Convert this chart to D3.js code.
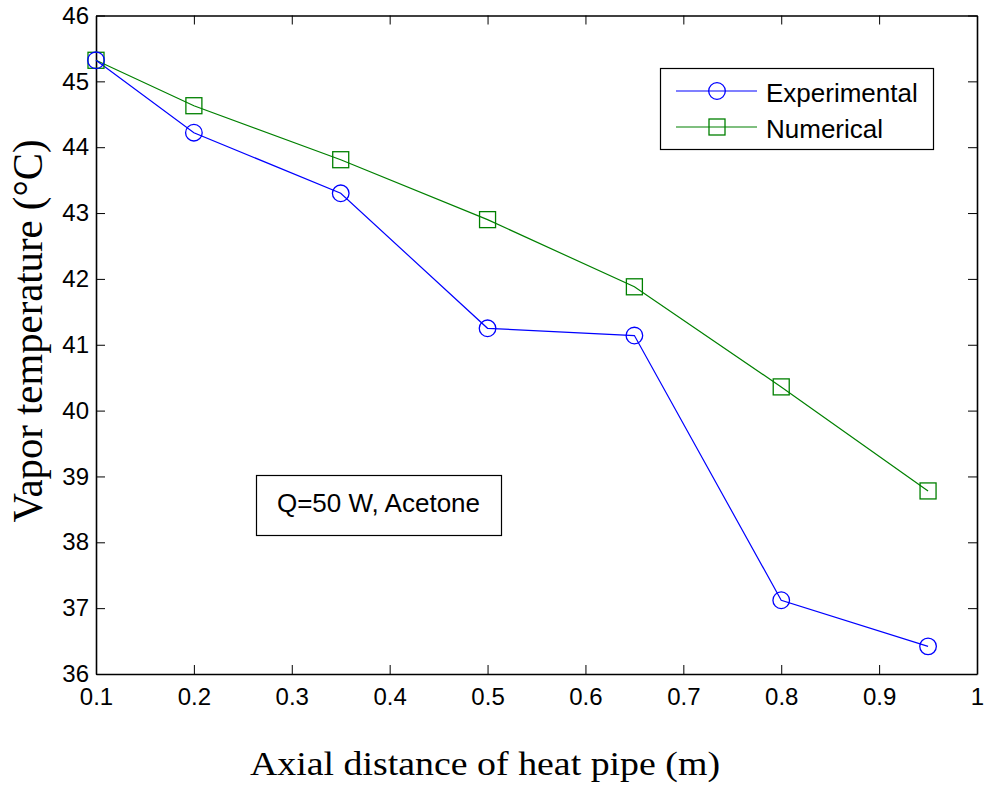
<!DOCTYPE html>
<html>
<head>
<meta charset="utf-8">
<script src="https://cdn.jsdelivr.net/npm/d3@7"></script>
<style>
  html, body { margin: 0; padding: 0; background: #fff; }
  svg { display: block; }
</style>
</head>
<body>
<svg id="chart" width="986" height="789"></svg>
<script>
// Axial positions along the heat pipe (m)
const distance = [0.1, 0.2, 0.35, 0.5, 0.65, 0.8, 0.95];
// Vapor temperatures (°C)
const experimental = [45.32, 44.22, 43.3, 41.25, 41.14, 37.12, 36.42];
const numerical = [45.32, 44.63, 43.81, 42.9, 41.88, 40.36, 38.78];
const seriesNames = ["Experimental", "Numerical"];
const xTicks = [0.1, 0.2, 0.3, 0.4, 0.5, 0.6, 0.7, 0.8, 0.9, 1];
const yTicks = [36, 37, 38, 39, 40, 41, 42, 43, 44, 45, 46];
const annotation = "Q=50 W, Acetone";

const svg = d3.select("#chart");
const plot = { left: 96, right: 977, top: 15.5, bottom: 674 };

const x = d3.scaleLinear().domain([0.1, 1]).range([plot.left, plot.right]);
const y = d3.scaleLinear().domain([36, 46]).range([plot.bottom, plot.top]);

const tickFont = "Arial, 'Liberation Sans', sans-serif";
const labelFont = "'Times New Roman', 'Liberation Serif', serif";

// Axes with inward ticks on all four sides
const fmtX = d => (d === 1 ? "1" : d3.format(".1f")(d));
const bottomAxis = d3.axisBottom(x).tickValues(xTicks).tickSizeInner(-9).tickSizeOuter(0).tickPadding(14).tickFormat(fmtX);
const topAxis = d3.axisTop(x).tickValues(xTicks).tickSizeInner(-9).tickSizeOuter(0).tickFormat("");
const leftAxis = d3.axisLeft(y).tickValues(yTicks).tickSizeInner(-9).tickSizeOuter(0).tickPadding(7).tickFormat(d3.format("d"));
const rightAxis = d3.axisRight(y).tickValues(yTicks).tickSizeInner(-9).tickSizeOuter(0).tickFormat("");

function styleAxis(g) {
  g.select(".domain").attr("stroke", "#000").attr("stroke-width", 1.6);
  g.selectAll(".tick line").attr("stroke", "#000").attr("stroke-width", 1);
  g.selectAll(".tick text").attr("fill", "#000").style("font-family", tickFont).style("font-size", "24px");
}

svg.append("g").attr("transform", `translate(0,${plot.bottom})`).call(bottomAxis).call(styleAxis);
svg.append("g").attr("transform", `translate(0,${plot.top})`).call(topAxis).call(styleAxis);
svg.append("g").attr("transform", `translate(${plot.left},0)`).call(leftAxis).call(styleAxis);
svg.append("g").attr("transform", `translate(${plot.right},0)`).call(rightAxis).call(styleAxis);

// Series lines and markers
const line = d3.line().x((d, i) => x(distance[i])).y(d => y(d));

svg.append("path").datum(numerical)
  .attr("fill", "none").attr("stroke", "#008000").attr("stroke-width", 1.2)
  .attr("d", line);
svg.append("path").datum(experimental)
  .attr("fill", "none").attr("stroke", "#0000ff").attr("stroke-width", 1.2)
  .attr("d", line);

const sq = 16;
svg.append("g").selectAll("rect").data(numerical).join("rect")
  .attr("x", (d, i) => x(distance[i]) - sq / 2)
  .attr("y", d => y(d) - sq / 2)
  .attr("width", sq).attr("height", sq)
  .attr("fill", "none").attr("stroke", "#008000").attr("stroke-width", 1.3);

svg.append("g").selectAll("circle").data(experimental).join("circle")
  .attr("cx", (d, i) => x(distance[i]))
  .attr("cy", d => y(d))
  .attr("r", 8.3)
  .attr("fill", "none").attr("stroke", "#0000ff").attr("stroke-width", 1.3);

// Legend
const legend = svg.append("g");
legend.append("rect")
  .attr("x", 660.5).attr("y", 68.5).attr("width", 273).attr("height", 81)
  .attr("fill", "#fff").attr("stroke", "#000").attr("stroke-width", 1.2);

const legendRows = [
  { name: seriesNames[0], color: "#0000ff", shape: "circle", cy: 91 },
  { name: seriesNames[1], color: "#008000", shape: "square", cy: 127 }
];
legendRows.forEach(r => {
  legend.append("line")
    .attr("x1", 676).attr("x2", 757).attr("y1", r.cy).attr("y2", r.cy)
    .attr("stroke", r.color).attr("stroke-width", 1.2);
  if (r.shape === "circle") {
    legend.append("circle").attr("cx", 717).attr("cy", r.cy).attr("r", 8.3)
      .attr("fill", "none").attr("stroke", r.color).attr("stroke-width", 1.3);
  } else {
    legend.append("rect").attr("x", 717 - sq / 2).attr("y", r.cy - sq / 2)
      .attr("width", sq).attr("height", sq)
      .attr("fill", "none").attr("stroke", r.color).attr("stroke-width", 1.3);
  }
  legend.append("text")
    .attr("x", 766).attr("y", r.cy + 11)
    .style("font-family", tickFont).style("font-size", "26px")
    .attr("fill", "#000").text(r.name);
});

// Annotation box
svg.append("rect")
  .attr("x", 256.5).attr("y", 475.5).attr("width", 245).attr("height", 60)
  .attr("fill", "#fff").attr("stroke", "#000").attr("stroke-width", 1.2);
svg.append("text")
  .attr("x", 378.5).attr("y", 512)
  .attr("text-anchor", "middle")
  .style("font-family", tickFont).style("font-size", "26px")
  .attr("fill", "#000").text(annotation);

// Axis titles
svg.append("text")
  .attr("x", 485).attr("y", 775)
  .attr("text-anchor", "middle")
  .attr("textLength", 470).attr("lengthAdjust", "spacingAndGlyphs")
  .style("font-family", labelFont).style("font-size", "34px")
  .attr("fill", "#000").text("Axial distance of heat pipe (m)");

svg.append("text")
  .attr("transform", `translate(42,331) rotate(-90)`)
  .attr("text-anchor", "middle")
  .attr("textLength", 383).attr("lengthAdjust", "spacingAndGlyphs")
  .style("font-family", labelFont).style("font-size", "42px")
  .attr("fill", "#000").text("Vapor temperature (°C)");
</script>
</body>
</html>
